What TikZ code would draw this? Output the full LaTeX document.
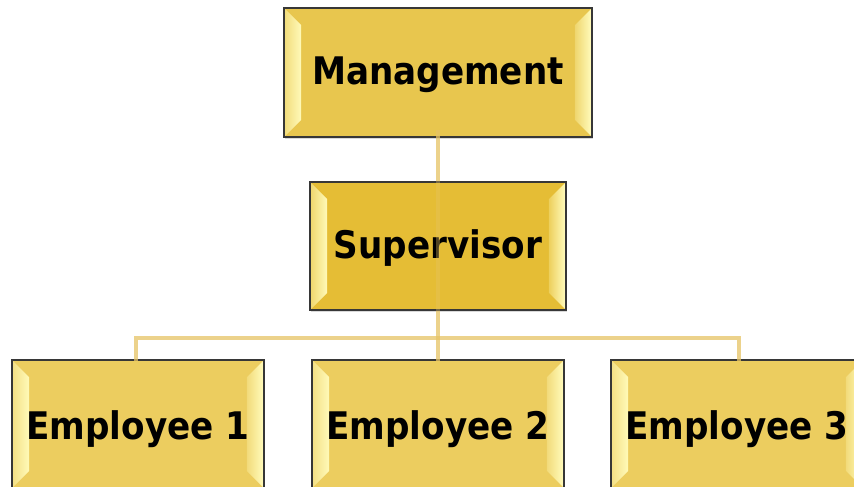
\documentclass[tikz,border=0pt]{standalone}
\usepackage{fontspec}
\setmainfont{DejaVu Sans Condensed}[BoldFont={DejaVu Sans Condensed Bold}]
\usetikzlibrary{calc,shadows}
\definecolor{mgmt}{RGB}{232,198,78}
\definecolor{supv}{RGB}{229,189,53}
\definecolor{empl}{RGB}{236,205,95}
\definecolor{glow}{RGB}{255,250,185}
\definecolor{edge}{RGB}{55,55,55}
\definecolor{link}{RGB}{230,195,100}
\tikzset{
  x=1pt, y=-1pt,
  orgbox/.style={draw=edge, line width=1.6pt, minimum width=#1, inner sep=0pt},
  boxshadow/.style={drop shadow={shadow xshift=1pt, shadow yshift=-1.5pt, opacity=0.3}},
  mgmtbox/.style={orgbox=308pt, minimum height=129pt, fill=mgmt, boxshadow},
  supvbox/.style={orgbox=256pt, minimum height=128pt, fill=supv, boxshadow},
  emplbox/.style={orgbox=252pt, minimum height=128pt, fill=empl, boxshadow},
  label/.style={font=\fontsize{38}{44}\selectfont\bfseries, text=black, inner sep=0pt},
  connector/.style={draw=link, line width=4.5pt, opacity=0.75}
}
% light bevel strips on the left and right inside edges of a box
\newcommand{\bevelsides}[2]{%
  \shade[left color=#2!55!glow, right color=glow]
    ($(#1.north west)+(2,2)$) -- ($(#1.north west)+(18,18)$)
    -- ($(#1.south west)+(18,-18)$) -- ($(#1.south west)+(2,-2)$) -- cycle;
  \shade[left color=#2!70!glow, right color=glow]
    ($(#1.north east)+(-2,2)$) -- ($(#1.north east)+(-18,18)$)
    -- ($(#1.south east)+(-18,-18)$) -- ($(#1.south east)+(-2,-2)$) -- cycle;
}
\begin{document}
\begin{tikzpicture}
\useasboundingbox (0,0) rectangle (854,487);
\begin{scope}
\clip (0,0) rectangle (854,487);
% boxes
\node[mgmtbox] (mgmt) at (438,72.5) {};
\node[supvbox] (supv) at (438,246) {};
\node[emplbox] (e1) at (138,424) {};
\node[emplbox] (e2) at (438,424) {};
\node[emplbox] (e3) at (737,424) {};
\bevelsides{mgmt}{mgmt}
\bevelsides{supv}{supv}
\bevelsides{e1}{empl}
\bevelsides{e2}{empl}
\bevelsides{e3}{empl}
% labels
\node[label] at ($(mgmt.center)+(0,2)$) {Management};
\node[label] at ($(supv.center)+(0,2)$) {Supervisor};
\node[label] at ($(e1.center)+(0,5)$) {Employee 1};
\node[label] at ($(e2.center)+(0,5)$) {Employee 2};
\node[label] at ($(e3.center)+(0,5)$) {Employee 3};
% connectors
\coordinate (bus) at (438,338);
\draw[connector] ($(mgmt.south)+(0,-8)$) -- (supv.north);
\draw[connector, opacity=0.35] (supv.north) -- (supv.south);
\draw[connector] (supv.south) -- (bus);
\draw[connector] ($(e1.north)+(-2,2)$) |- (bus) -| ($(e3.north)+(2,2)$);
\draw[connector] (bus) -- ($(e2.north)+(0,2)$);
\end{scope}
\end{tikzpicture}
\end{document}
